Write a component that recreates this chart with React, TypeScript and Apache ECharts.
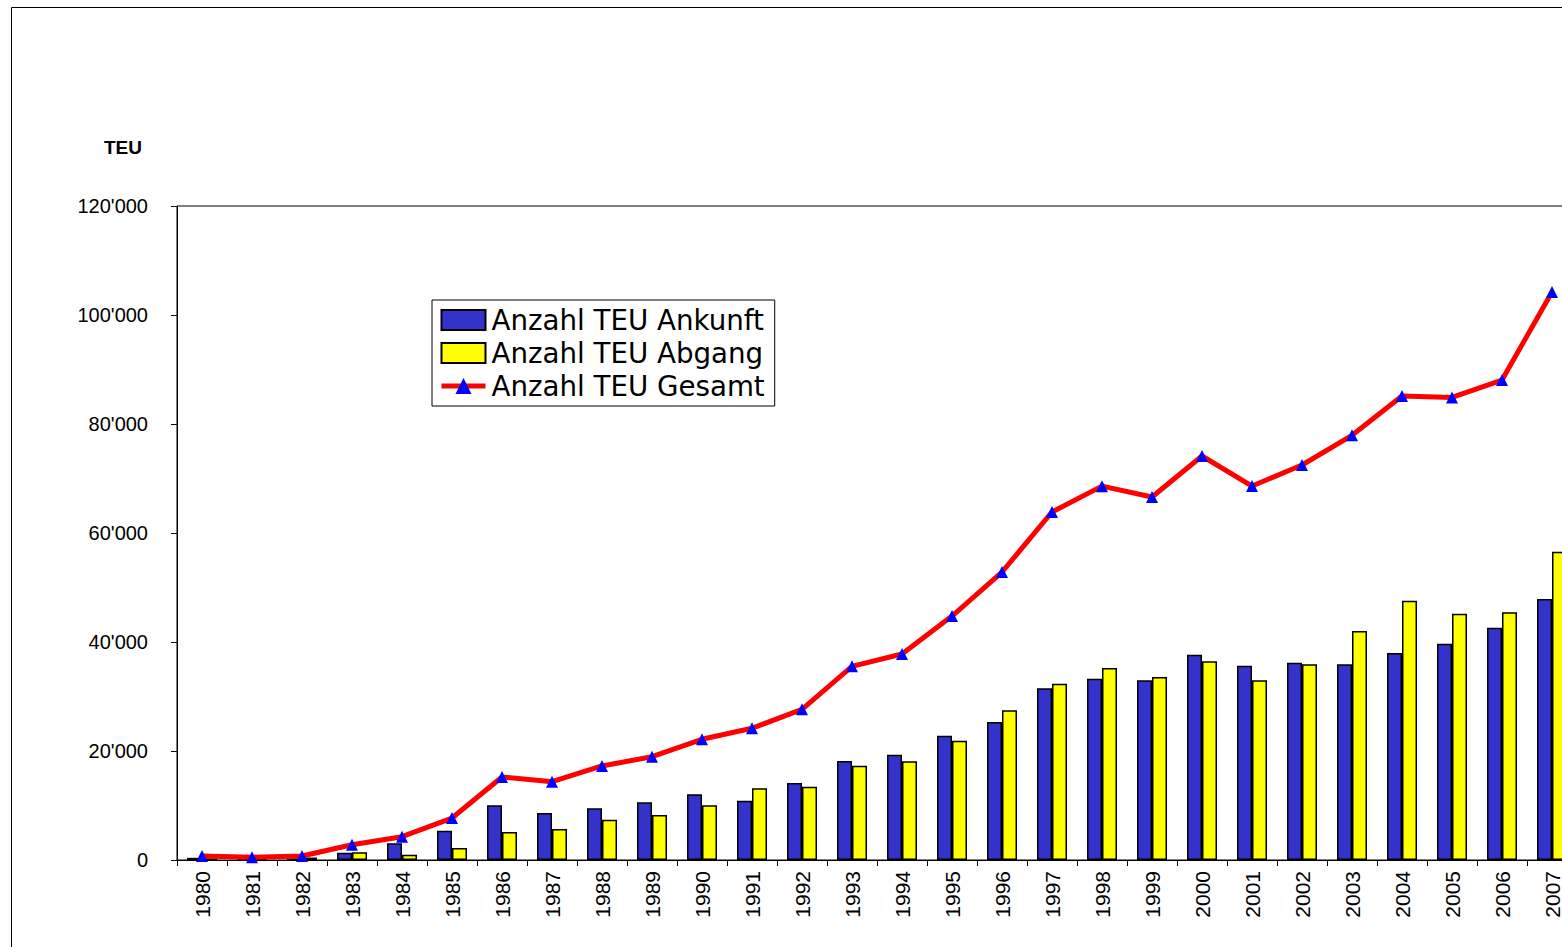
import React, { useEffect, useRef } from "react";
import * as echarts from "echarts";

const years = [
  "1980", "1981", "1982", "1983", "1984", "1985", "1986", "1987", "1988", "1989",
  "1990", "1991", "1992", "1993", "1994", "1995", "1996", "1997", "1998", "1999",
  "2000", "2001", "2002", "2003", "2004", "2005", "2006", "2007",
];
const ankunft = [
  400, 250, 300, 1350, 3060, 5380, 10030, 8620, 9480, 10580,
  12060, 10880, 14130, 18170, 19320, 22810, 25320, 31500, 33270, 32970,
  37670, 35650, 36200, 35900, 37980, 39690, 42620, 47890,
];
const abgang = [
  300, 250, 450, 1400, 970, 2200, 5140, 5690, 7400, 8260,
  10040, 13160, 13450, 17300, 18110, 21890, 27470, 32350, 35230, 33580,
  36460, 32970, 35900, 42020, 47580, 45190, 45450, 56570,
];
const gesamt = [
  730, 500, 730, 2800, 4280, 7700, 15230, 14370, 17250, 18960,
  22150, 24170, 27650, 35540, 37800, 44770, 52840, 63850, 68600, 66600,
  74130, 68620, 72480, 77920, 85140, 84880, 88070, 104220,
];
const yTicks = { min: 0, max: 120000, interval: 20000 };
const seriesNames = ["Anzahl TEU Ankunft", "Anzahl TEU Abgang", "Anzahl TEU Gesamt"];

const FONT = "'Liberation Sans', Arial, sans-serif";

function fmt(v: number): string {
  const s = String(Math.round(v));
  return s.replace(/\B(?=(\d{3})+(?!\d))/g, "'");
}

export default function App() {
  const ref = useRef<HTMLDivElement>(null);
  useEffect(() => {
    if (!ref.current) return;
    const chart = echarts.init(ref.current, null, { renderer: "svg" });
    chart.setOption({
      animation: false,
      backgroundColor: "#ffffff",
      textStyle: { fontFamily: FONT },
      graphic: [
        {
          type: "rect",
          shape: { x: 11.5, y: 7.5, width: 1700, height: 1100 },
          style: { fill: "none", stroke: "#000", lineWidth: 1 },
          silent: true,
          z: -10,
        },
        {
          type: "text",
          left: 104,
          top: 138,
          style: {
            text: "TEU",
            font: `bold 19px ${FONT}`,
            fill: "#000",
          },
        },
      ],
      grid: {
        left: 177,
        top: 206,
        width: 1400,
        height: 654,
        show: true,
        borderColor: "#000",
        borderWidth: 1,
        backgroundColor: "transparent",
        containLabel: false,
        outerBoundsMode: "none",
      },
      legend: {
        orient: "vertical",
        left: 432,
        top: 300,
        data: [
          { name: seriesNames[0], icon: "rect" },
          { name: seriesNames[1], icon: "rect" },
          { name: seriesNames[2], lineStyle: { width: 5, color: "#FF0000" } },
        ],
        borderColor: "#000",
        borderWidth: 1,
        backgroundColor: "#fff",
        padding: [6, 10, 6, 7],
        itemWidth: 44,
        itemHeight: 20,
        itemGap: 5,
        textStyle: {
          fontSize: 27.7,
          lineHeight: 28,
          color: "#000",
          fontFamily: "'DejaVu Sans', sans-serif",
          padding: [0, 0, 0, 1],
        },
      },
      xAxis: {
        type: "category",
        data: years,
        boundaryGap: true,
        axisLine: { lineStyle: { color: "#000", width: 1 } },
        axisTick: { show: true, interval: 0, length: 6, lineStyle: { color: "#000" } },
        axisLabel: {
          interval: 0,
          rotate: 90,
          fontSize: 21,
          color: "#000",
          margin: 11,
          fontFamily: FONT,
        },
        splitLine: { show: false },
      },
      yAxis: {
        type: "value",
        min: yTicks.min,
        max: yTicks.max,
        interval: yTicks.interval,
        axisLine: { show: true, lineStyle: { color: "#000", width: 1 } },
        axisTick: { show: true, length: 6, lineStyle: { color: "#000" } },
        axisLabel: {
          fontSize: 20,
          color: "#000",
          margin: 29,
          fontFamily: FONT,
          formatter: (v: number) => fmt(v),
        },
        splitLine: { show: false },
      },
      series: [
        {
          name: seriesNames[0],
          type: "bar",
          data: ankunft,
          barWidth: 15,
          barGap: "0%",
          itemStyle: { color: "#3333CC", borderColor: "#000", borderWidth: 1.5 },
        },
        {
          name: seriesNames[1],
          type: "bar",
          data: abgang,
          barWidth: 15,
          barGap: "0%",
          itemStyle: { color: "#FFFF00", borderColor: "#000", borderWidth: 1.5 },
        },
        {
          name: seriesNames[2],
          type: "line",
          data: gesamt,
          symbol: "triangle",
          symbolSize: 12,
          lineStyle: { color: "#FF0000", width: 5 },
          itemStyle: { color: "#0000FF", borderColor: "#0000FF", borderWidth: 0 },
          z: 5,
        },
      ],
    });
    return () => chart.dispose();
  }, []);
  return (
    <div
      style={{
        position: "fixed",
        left: 0,
        top: 0,
        width: 1562,
        height: 947,
        overflow: "hidden",
      }}
    >
      <div ref={ref} style={{ width: 1620, height: 947 }} />
    </div>
  );
}
